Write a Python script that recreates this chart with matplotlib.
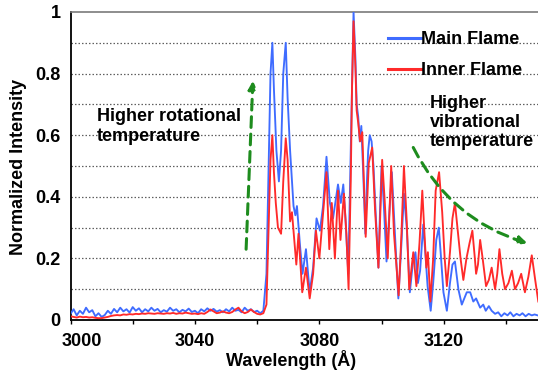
import matplotlib
matplotlib.use("Agg")
import matplotlib.pyplot as plt
import matplotlib.transforms as mtransforms
from matplotlib.patches import FancyArrowPatch

plt.rcParams['font.family'] = ['Liberation Sans', 'DejaVu Sans']
plt.rcParams['font.weight'] = 'bold'
FS = 13

# ---------------- data ----------------
base_wl = list(range(3000, 3063))
main_base = [0.020, 0.035, 0.015, 0.030, 0.020, 0.040, 0.025, 0.032, 0.012, 0.022,
             0.010, 0.016, 0.030, 0.020, 0.036, 0.025, 0.040, 0.028, 0.035, 0.024,
             0.042, 0.030, 0.038, 0.025, 0.035, 0.028, 0.040, 0.030, 0.036, 0.025,
             0.032, 0.027, 0.040, 0.030, 0.035, 0.025, 0.033, 0.028, 0.037, 0.026,
             0.030, 0.022, 0.035, 0.028, 0.038, 0.030, 0.036, 0.027, 0.032, 0.025,
             0.035, 0.028, 0.040, 0.030, 0.033, 0.025, 0.040, 0.030, 0.035, 0.026,
             0.030, 0.022, 0.030]
inner_base = [0.012, 0.010, 0.008, 0.011, 0.009, 0.010, 0.008, 0.009, 0.007, 0.006,
              0.006, 0.008, 0.010, 0.013, 0.015, 0.016, 0.015, 0.018, 0.017, 0.019,
              0.018, 0.020, 0.019, 0.021, 0.020, 0.022, 0.021, 0.020, 0.022, 0.021,
              0.020, 0.022, 0.021, 0.023, 0.020, 0.022, 0.021, 0.024, 0.022, 0.020,
              0.021, 0.019, 0.022, 0.020, 0.026, 0.034, 0.028, 0.022, 0.024, 0.028,
              0.024, 0.022, 0.026, 0.034, 0.040, 0.028, 0.022, 0.026, 0.034, 0.026,
              0.020, 0.018, 0.022]

main_wl = [3063.0, 3063.7, 3064.3, 3064.9, 3065.4, 3066.2, 3067.0, 3067.7, 3068.4, 3069.2,
           3069.8, 3070.6, 3071.7, 3072.3, 3072.8, 3073.8, 3074.6, 3075.7, 3076.9, 3078.0,
           3079.1, 3080.2, 3081.2, 3082.3, 3083.4, 3084.4, 3086.0, 3086.9, 3087.7, 3088.4,
           3089.3, 3090.1, 3091.0, 3091.6, 3092.0, 3092.5, 3093.0, 3093.5, 3094.1, 3094.8,
           3095.3, 3095.7, 3096.2, 3096.8, 3097.4, 3098.1, 3099.0, 3099.5, 3100.0, 3100.7,
           3101.6, 3102.4, 3103.3, 3104.2, 3105.4, 3106.4, 3107.2, 3108.1, 3109.1, 3110.0,
           3110.9, 3111.7, 3112.4, 3113.4, 3114.2, 3114.8, 3115.3, 3115.8, 3116.6, 3117.6,
           3118.4, 3119.0, 3119.9, 3121.0, 3122.0, 3122.8, 3123.6, 3124.7, 3125.8, 3126.6,
           3127.4, 3128.5, 3129.5, 3130.4, 3131.7, 3132.7, 3133.5, 3134.5, 3135.4, 3136.5,
           3137.5, 3138.5, 3139.5, 3140.5, 3141.4, 3142.4, 3143.4, 3144.4, 3145.3, 3146.3,
           3147.3, 3148.3, 3149.2, 3150.2]
main_int = [0.15, 0.50, 0.80, 0.90, 0.75, 0.55, 0.45, 0.55, 0.80, 0.90,
            0.72, 0.55, 0.37, 0.34, 0.37, 0.24, 0.15, 0.23, 0.09, 0.17,
            0.33, 0.29, 0.37, 0.53, 0.38, 0.33, 0.44, 0.38, 0.44, 0.33,
            0.15, 0.55, 1.00, 0.85, 0.70, 0.66, 0.58, 0.63, 0.48, 0.28,
            0.45, 0.55, 0.60, 0.58, 0.50, 0.35, 0.17, 0.35, 0.50, 0.38,
            0.19, 0.33, 0.48, 0.30, 0.07, 0.25, 0.41, 0.30, 0.09, 0.18,
            0.22, 0.12, 0.16, 0.31, 0.20, 0.11, 0.07, 0.03, 0.12, 0.26,
            0.30, 0.22, 0.09, 0.03, 0.12, 0.18, 0.19, 0.10, 0.05, 0.07,
            0.09, 0.09, 0.06, 0.07, 0.04, 0.05, 0.03, 0.045, 0.03, 0.02,
            0.025, 0.012, 0.022, 0.015, 0.025, 0.012, 0.02, 0.015, 0.022, 0.012,
            0.02, 0.015, 0.018, 0.015]

inner_wl = [3063.0, 3063.7, 3064.3, 3064.9, 3065.4, 3066.0, 3066.7, 3067.7, 3068.4, 3069.2,
            3069.8, 3070.6, 3071.2, 3072.6, 3073.3, 3074.5, 3075.7, 3076.9, 3078.0, 3078.9,
            3080.0, 3081.0, 3082.3, 3083.2, 3084.0, 3085.0, 3086.0, 3086.8, 3087.9, 3088.7,
            3089.4, 3090.1, 3090.5, 3091.0, 3091.6, 3092.0, 3092.5, 3093.1, 3093.8, 3094.9,
            3095.9, 3097.0, 3097.9, 3099.0, 3100.2, 3101.0, 3102.0, 3103.1, 3104.0, 3105.5,
            3106.4, 3107.2, 3108.1, 3108.9, 3110.2, 3111.2, 3112.2, 3113.1, 3113.8, 3114.4,
            3114.9, 3115.7, 3116.6, 3117.4, 3118.5, 3119.5, 3120.3, 3121.0, 3122.0, 3122.8,
            3123.6, 3124.6, 3125.4, 3126.3, 3127.3, 3128.3, 3129.2, 3130.0, 3130.4, 3131.0,
            3131.7, 3132.5, 3133.6, 3134.5, 3135.4, 3136.5, 3137.2, 3137.9, 3138.8, 3139.7,
            3140.8, 3141.9, 3142.9, 3143.9, 3144.9, 3146.1, 3147.2, 3148.3, 3149.4, 3150.4]
inner_int = [0.05, 0.30, 0.52, 0.60, 0.48, 0.38, 0.30, 0.28, 0.45, 0.59,
             0.52, 0.32, 0.35, 0.18, 0.28, 0.09, 0.17, 0.07, 0.15, 0.29,
             0.20, 0.32, 0.48, 0.23, 0.38, 0.20, 0.42, 0.26, 0.41, 0.28,
             0.10, 0.45, 0.75, 0.97, 0.82, 0.68, 0.64, 0.58, 0.61, 0.27,
             0.51, 0.56, 0.36, 0.17, 0.52, 0.39, 0.20, 0.50, 0.28, 0.08,
             0.28, 0.50, 0.32, 0.10, 0.22, 0.11, 0.25, 0.42, 0.28, 0.17,
             0.22, 0.06, 0.20, 0.42, 0.48, 0.35, 0.20, 0.11, 0.22, 0.33,
             0.38, 0.28, 0.20, 0.13, 0.20, 0.25, 0.29, 0.20, 0.15, 0.18,
             0.26, 0.20, 0.11, 0.13, 0.17, 0.10, 0.15, 0.23, 0.15, 0.10,
             0.12, 0.16, 0.10, 0.12, 0.15, 0.09, 0.14, 0.21, 0.13, 0.06]

series_names = ["Main Flame", "Inner Flame"]
x_tick_values = [3000, 3020, 3040, 3060, 3080, 3100, 3120, 3140]
x_tick_labels = ["3000", "", "3040", "", "3080", "", "3120", ""]
y_tick_values = [0, 0.2, 0.4, 0.6, 0.8, 1.0]
y_tick_labels = ["0", "0.2", "0.4", "0.6", "0.8", "1"]
y_grid_values = [0.1, 0.2, 0.3, 0.4, 0.5, 0.6, 0.7, 0.8, 0.9]

# ---------------- figure ----------------
W, H = 538, 372
X0, XEND = 3000, 3150.3
fig = plt.figure(figsize=(W / 100, H / 100), dpi=100)
ax = fig.add_axes([70.5 / W, 1 - 320 / H, 1 - 70.5 / W, (320 - 12) / H])

blue = '#3f6cff'
red = '#ff2a2a'
ax.plot(base_wl + main_wl, main_base + main_int, color=blue, lw=1.35, label=series_names[0],
        zorder=3, solid_joinstyle='round')
ax.plot(base_wl + inner_wl, inner_base + inner_int, color=red, lw=1.35, label=series_names[1],
        zorder=4, solid_joinstyle='round')

ax.set_xlim(X0, XEND)
ax.set_ylim(0, 1)

for gy in y_grid_values:
    ax.axhline(gy, color='#606060', lw=0.9, ls=(0, (1.2, 1.6)), zorder=1)

ax.set_xticks(x_tick_values)
ax.set_xticklabels(x_tick_labels, fontsize=FS, fontweight='bold')
ax.set_yticks(y_tick_values)
ax.set_yticklabels(y_tick_labels, fontsize=FS, fontweight='bold')
ax.tick_params(axis='x', length=3, width=1, direction='out', pad=6)
ax.tick_params(axis='y', length=0, pad=7)
lab0 = ax.get_xticklabels()[0]
lab0.set_transform(lab0.get_transform() + mtransforms.ScaledTranslation(11 / 100, 0, fig.dpi_scale_trans))

ax.spines['right'].set_visible(False)
ax.spines['top'].set_color('#7a7a7a')
ax.spines['top'].set_linewidth(1.2)
ax.spines['left'].set_linewidth(1.3)
ax.spines['bottom'].set_linewidth(1.3)

fig.text(291 / W, 1 - 360 / H, "Wavelength (Å)", fontsize=FS, fontweight='bold', ha='center', va='center')
fig.text(19 / W, 1 - 167 / H, "Normalized Intensity", fontsize=FS, fontweight='bold', ha='center', va='center', rotation=90)

leg = ax.legend(frameon=False, loc='upper left', bbox_to_anchor=(388 / W, 1 - 31 / H),
                bbox_transform=fig.transFigure, prop={'size': FS, 'weight': 'bold'},
                handlelength=1.8, handletextpad=0.05, labelspacing=0.78, borderpad=0,
                borderaxespad=0)
for ln in leg.get_lines():
    ln.set_linewidth(2.2)

def px2data(px, py):
    return (X0 + (px - 70.5) * (XEND - X0) / (W - 70.5), (320 - py) / 308)

tx, ty = px2data(97, 108)
ax.text(tx, ty, "Higher rotational\ntemperature", fontsize=FS, fontweight='bold',
        ha='left', va='top', linespacing=1.25, zorder=6)
tx, ty = px2data(430, 95)
ax.text(tx, ty, "Higher\nvibrational\ntemperature", fontsize=FS, fontweight='bold',
        ha='left', va='top', linespacing=1.15, zorder=6)

green = '#1e8c1e'
a1 = FancyArrowPatch(px2data(246, 252), px2data(253, 78), arrowstyle='-|>', mutation_scale=12,
                     color=green, lw=2.2, linestyle=(0, (3.5, 2.2)), zorder=5)
ax.add_patch(a1)
a2 = FancyArrowPatch(px2data(412, 145), px2data(530, 244), arrowstyle='-|>', mutation_scale=12,
                     color=green, lw=2.2, linestyle=(0, (3.5, 2.2)), zorder=5,
                     connectionstyle='arc3,rad=0.22')
ax.add_patch(a2)

fig.savefig('out.png', dpi=100)
